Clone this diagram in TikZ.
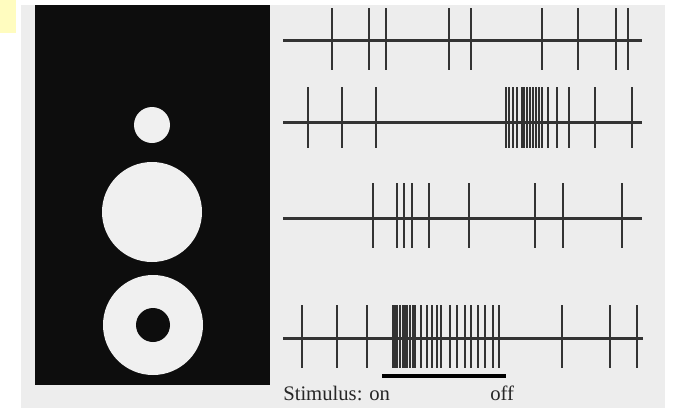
\documentclass[tikz,border=0pt]{standalone}
\usepackage{fontspec}
\setmainfont{Liberation Serif}
\begin{document}
\begin{tikzpicture}[x=0.75pt,y=-0.75pt,
  spike/.style={line width=1.6pt*0.75, draw=black!80},
  axisline/.style={line width=3pt*0.75, draw=black!80},
  lbl/.style={inner sep=0pt, anchor=base west, font=\fontsize{15.5pt}{16pt}\selectfont, text=black!85}]
\useasboundingbox (0,0) rectangle (676,408);
\fill[white] (0,0) rectangle (676,408);
\fill[yellow!25] (0,0) rectangle (16,33);
\fill[black!7] (21,5) rectangle (665,408);
% stimulus panel
\fill[black!95] (35,5) rectangle (270,385);
\fill[black!6] (152,125) circle (18);
\fill[black!6] (152,212) circle (50);
\fill[black!6] (153,325) circle (50);
\fill[black!95] (153,325) circle (17);
% trace 1
\draw[axisline] (283,40) -- (642,40);
\foreach \x in {332,369,386,449,471,542,578,616,628}
  \draw[spike] (\x,8) -- (\x,70);
% trace 2
\draw[axisline] (283,122) -- (642,122);
\foreach \x in {308,342,376,506,509,513,517,522,524,527,530,533,536,539,542,548,557,569,595,632}
  \draw[spike] (\x,87) -- (\x,148);
% trace 3
\draw[axisline] (283,218) -- (642,218);
\foreach \x in {373,397,404,412,429,469,535,563,622}
  \draw[spike] (\x,183) -- (\x,248);
% trace 4
\draw[axisline] (283,338) -- (643,338);
\foreach \x in {302,337,367,393,395,397,400,403,405,407,410,413,415,421,427,432,437,441,450,457,465,471,478,485,493,499,562,610,637}
  \draw[spike] (\x,305) -- (\x,368);
% stimulus bar and labels
\node[lbl] (on) at (283,400) {Stimulus: on};
\node[lbl] (off) at (490,400) {off};
\coordinate (barstart) at (382,376);
\coordinate (barend) at (506,376);
\draw[line width=3.5pt*0.75, black] (barstart) -- (barend);
\end{tikzpicture}
\end{document}
